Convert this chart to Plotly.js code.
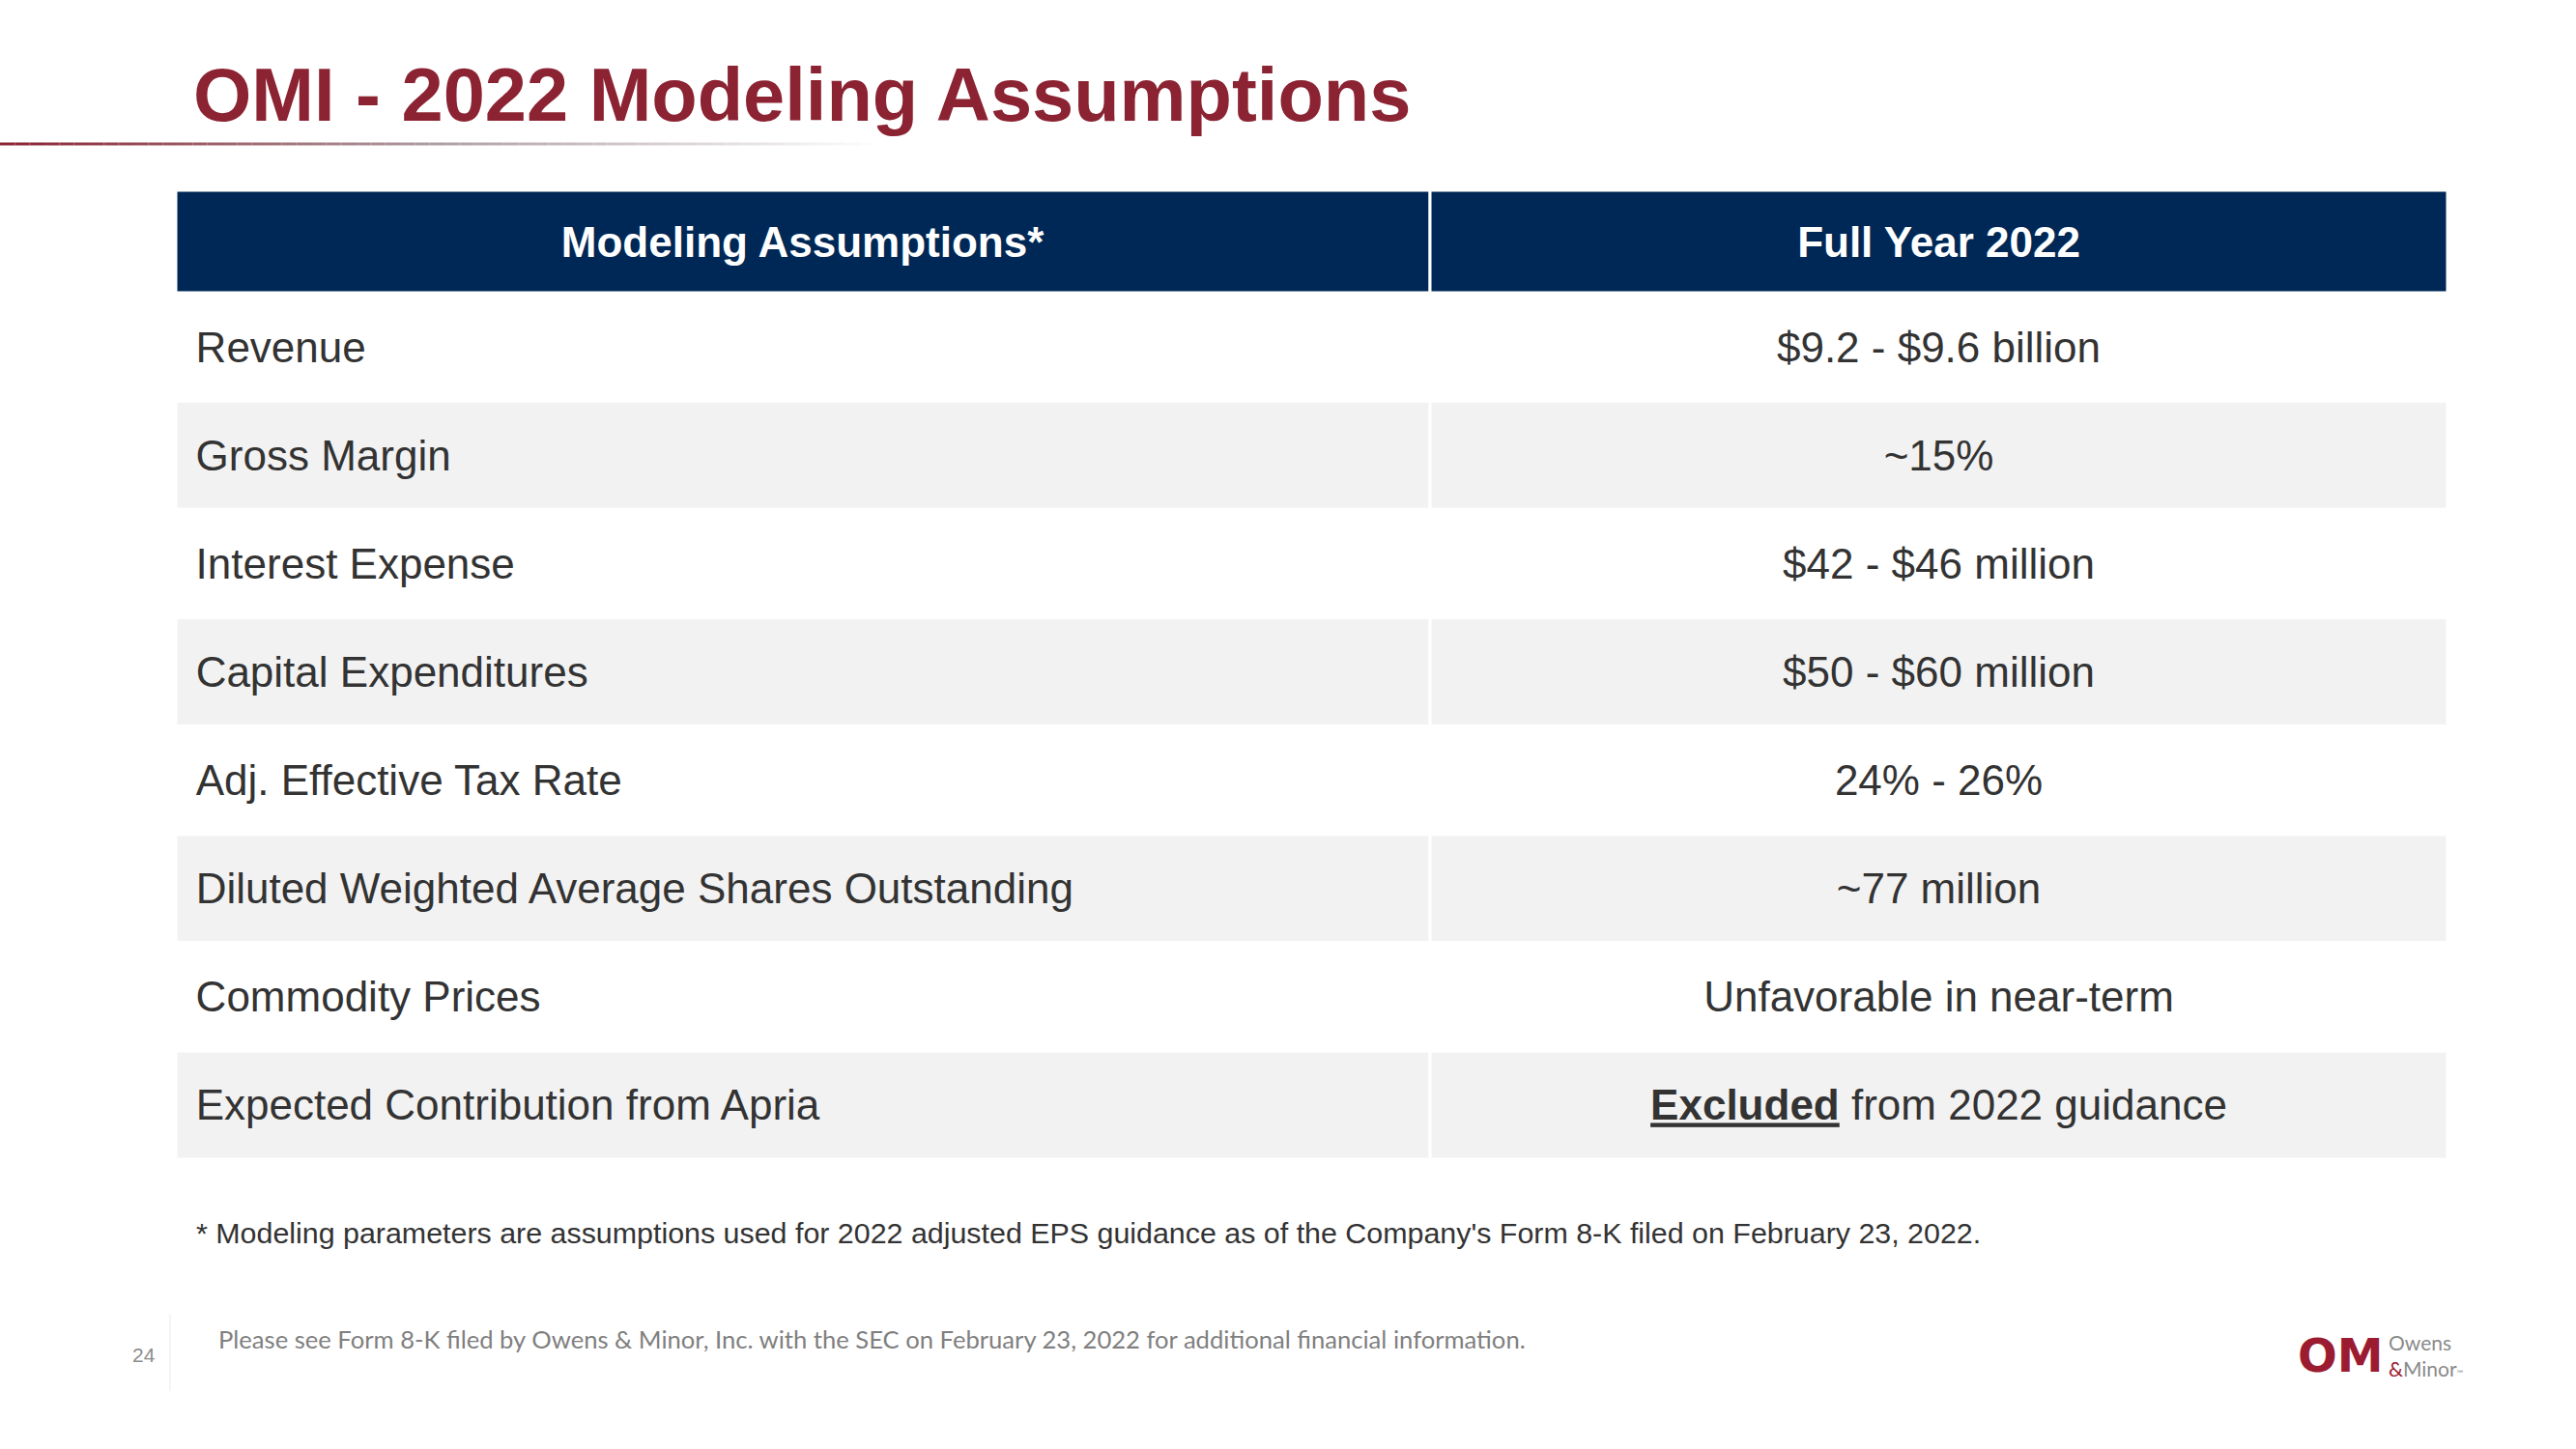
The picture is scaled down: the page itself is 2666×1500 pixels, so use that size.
<!DOCTYPE html>
<html>
<head>
<meta charset="utf-8">
<script src="https://cdn.plot.ly/plotly-3.0.1.min.js"></script>
<style>
html,body{margin:0;padding:0;background:#fff;}
#chart{width:2666px;height:1500px;}
</style>
</head>
<body>
<div id="chart"></div>
<script>
// ---- Data ----
const titleText = "OMI - 2022 Modeling Assumptions";
const headerLabels = ["Modeling Assumptions*", "Full Year 2022"];
const assumptions = [
  "Revenue",
  "Gross Margin",
  "Interest Expense",
  "Capital Expenditures",
  "Adj. Effective Tax Rate",
  "Diluted Weighted Average Shares Outstanding",
  "Commodity Prices",
  "Expected Contribution from Apria"
];
const fullYear2022 = [
  "$9.2 - $9.6 billion",
  "~15%",
  "$42 - $46 million",
  "$50 - $60 million",
  "24% - 26%",
  "~77 million",
  "Unfavorable in near-term",
  "<b><span style=\"text-decoration:underline\">Excluded</span></b> from 2022 guidance"
];
const footnote = "* Modeling parameters are assumptions used for 2022 adjusted EPS guidance as of the Company's Form 8-K filed on February 23, 2022.";
const sourceNote = "Please see Form 8-K filed by Owens & Minor, Inc. with the SEC on February 23, 2022 for additional financial information.";
const pageNumber = "24";

// ---- Styling ----
const W = 2666, H = 1500;
const px = v => v / W;
const py = v => 1 - v / H;
const navy = "#002856";
const maroon = "#8B2332";
const textCol = "#333333";
const FONT = "Liberation Sans, Arial, sans-serif";
const colW = [1298, 1053];            // column widths (px of table)
const rowFill = assumptions.map((_, i) => i % 2 === 0 ? "#FFFFFF" : "#F2F2F2");
const SEP = {color: "#FFFFFF", width: 3};
const LEFT_PAD = "\u2009\u2009";

function cellTrace(yv, text, colIdx, fill, anchor, font, axis) {
  return {
    type: "bar", orientation: "h",
    y: yv, x: yv.map(() => colW[colIdx]), base: colIdx === 0 ? 0 : colW[0],
    marker: {color: fill, line: SEP},
    text: text, textposition: "inside", insidetextanchor: anchor,
    textangle: 0, constraintext: "none", cliponaxis: false,
    insidetextfont: font, textfont: font,
    width: 1, hoverinfo: "skip", yaxis: axis, xaxis: "x"
  };
}

const bodyFont = {family: FONT, size: 44, color: textCol};
const headFont = {family: FONT, size: 44, color: "#FFFFFF"};

const traces = [
  cellTrace(assumptions, assumptions.map(a => LEFT_PAD + a), 0, rowFill, "start", bodyFont, "y"),
  cellTrace(assumptions, fullYear2022, 1, rowFill, "middle", bodyFont, "y"),
  cellTrace([headerLabels[0]], ["<b>" + headerLabels[0] + "</b>"], 0, [navy], "middle", headFont, "y2"),
  cellTrace([headerLabels[0]], ["<b>" + headerLabels[1] + "</b>"], 1, [navy], "middle", headFont, "y2")
];

// gradient rule under the title, built as short segments
const shapes = [];
const nSeg = 60, ruleEnd = 920;
function lerp(a, b, t) { return Math.round(a + (b - a) * t); }
for (let i = 0; i < nSeg; i++) {
  const t = i / (nSeg - 1);
  let c;
  if (t < 0.5) {
    const u = t / 0.5;
    c = [lerp(139, 175, u), lerp(35, 160, u), lerp(50, 165, u)];
  } else {
    const u = (t - 0.5) / 0.5;
    c = [lerp(175, 255, u), lerp(160, 255, u), lerp(165, 255, u)];
  }
  shapes.push({
    type: "line", xref: "paper", yref: "paper",
    x0: px(ruleEnd * i / nSeg), x1: px(ruleEnd * (i + 1) / nSeg),
    y0: py(149), y1: py(149),
    line: {color: "rgb(" + c.join(",") + ")", width: 3}
  });
}
// faint separator near page number
shapes.push({type: "line", xref: "paper", yref: "paper",
  x0: px(176), x1: px(176), y0: py(1360), y1: py(1440),
  line: {color: "#F5F5F5", width: 2}});
// logo stripes across OM
[1397, 1407].forEach(y => shapes.push({type: "line", xref: "paper", yref: "paper",
  x0: px(2380), x1: px(2464), y0: py(y), y1: py(y), line: {color: "#FFFFFF", width: 1.5}}));

const annotations = [
  {text: footnote, x: px(201), y: py(1276), xref: "paper", yref: "paper",
   xanchor: "left", yanchor: "middle", showarrow: false,
   font: {family: FONT, size: 30.4, color: textCol}},
  {text: sourceNote, x: px(224), y: py(1386), xref: "paper", yref: "paper",
   xanchor: "left", yanchor: "middle", showarrow: false,
   font: {family: "Lato, Open Sans, sans-serif", size: 25.6, color: "#7F7F7F"}},
  {text: pageNumber, x: px(149), y: py(1402), xref: "paper", yref: "paper",
   xanchor: "center", yanchor: "middle", showarrow: false,
   font: {family: FONT, size: 21, color: "#8C8C8C"}},
  {text: "<b>OM</b>", x: px(2422), y: py(1403), xref: "paper", yref: "paper",
   xanchor: "center", yanchor: "middle", showarrow: false, borderpad: 0, borderwidth: 0,
   font: {family: "DejaVu Sans, sans-serif", size: 48, color: "#9B1B30"}},
  {text: "Owens<br><span style=\"color:#9B1B30\">&</span>Minor<span style=\"font-size:9px\">™</span>",
   x: px(2472), y: py(1403), xref: "paper", yref: "paper", align: "left",
   xanchor: "left", yanchor: "middle", showarrow: false, borderpad: 0, borderwidth: 0,
   font: {family: "Lato, sans-serif", size: 21, color: "#8A8A8A"}}
];

const layout = {
  width: W, height: H,
  margin: {l: 0, r: 0, t: 0, b: 0},
  paper_bgcolor: "#FFFFFF",
  plot_bgcolor: "rgba(0,0,0,0)",
  barmode: "overlay", bargap: 0,
  xaxis: {domain: [px(182), px(2533)], range: [0, colW[0] + colW[1]], visible: false, fixedrange: true},
  yaxis: {domain: [py(1200), py(303)], type: "category", categoryarray: assumptions,
          autorange: "reversed", visible: false, fixedrange: true},
  yaxis2: {domain: [py(303), py(197)], type: "category", visible: false, fixedrange: true},
  title: {
    text: "<b>" + titleText + "</b>",
    x: px(200), xanchor: "left", xref: "paper",
    y: py(98), yanchor: "middle", yref: "container",
    font: {family: FONT, size: 77.6, color: maroon}
  },
  shapes: shapes,
  annotations: annotations,
  showlegend: false
};

Plotly.newPlot("chart", traces, layout, {displayModeBar: false, staticPlot: true});
</script>
</body>
</html>
